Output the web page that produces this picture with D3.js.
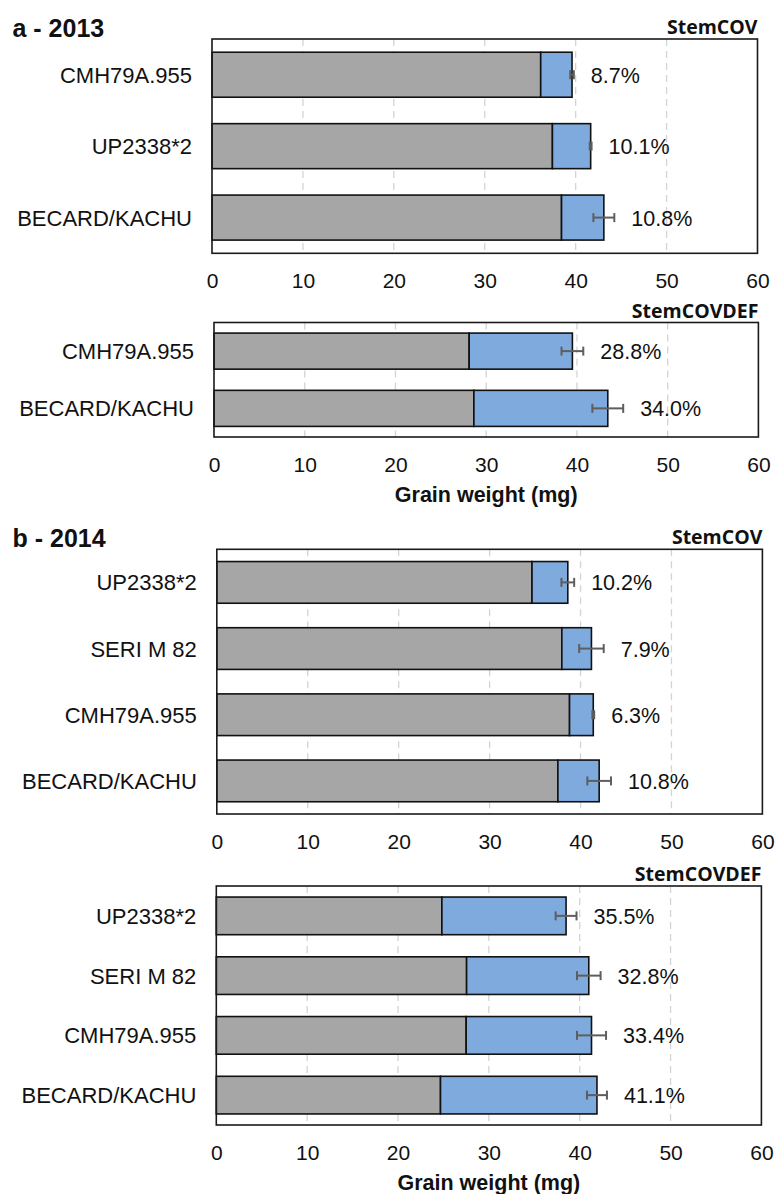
<!DOCTYPE html>
<html>
<head>
<meta charset="utf-8">
<script src="https://cdn.jsdelivr.net/npm/d3@7"></script>
<style>
  html, body { margin: 0; padding: 0; background: #fff; }
  svg { display: block; }
</style>
</head>
<body>
<svg id="chart" width="776" height="1194"></svg>
<script>
// Grain weight (mg): control total, % loss under treatment, error (mg)
const cultivars2013Cov = ["CMH79A.955", "UP2338*2", "BECARD/KACHU"];
const total2013Cov = [39.6, 41.65, 43.1];
const loss2013Cov = [8.7, 10.1, 10.8];
const err2013Cov = [0.2, 0.1, 1.15];

const cultivars2013Def = ["CMH79A.955", "BECARD/KACHU"];
const total2013Def = [39.5, 43.4];
const loss2013Def = [28.8, 34.0];
const err2013Def = [1.2, 1.7];

const cultivars2014 = ["UP2338*2", "SERI M 82", "CMH79A.955", "BECARD/KACHU"];
const total2014Cov = [38.6, 41.2, 41.4, 42.05];
const loss2014Cov = [10.2, 7.9, 6.3, 10.8];
const err2014Cov = [0.7, 1.35, 0.1, 1.3];

const total2014Def = [38.5, 41.0, 41.3, 41.9];
const loss2014Def = [35.5, 32.8, 33.4, 41.1];
const err2014Def = [1.15, 1.3, 1.6, 1.1];

const xTicks = [0, 10, 20, 30, 40, 50, 60];
const xDomain = [0, 60];
const axisTitle = "Grain weight (mg)";

const GRAY = "#a6a6a6";
const BLUE = "#7eaadd";
const ARIAL = "'Liberation Sans', Arial, sans-serif";
const BOLDSUB = "'Open Sans', 'Noto Sans', sans-serif";

const panels = [
  { title: "a - 2013", sub: "StemCOV", cats: cultivars2013Cov, total: total2013Cov, loss: loss2013Cov, err: err2013Cov,
    box: { x0: 212, x1: 757.5, y0: 39, y1: 253.3 }, axisLabel: false },
  { title: null, sub: "StemCOVDEF", cats: cultivars2013Def, total: total2013Def, loss: loss2013Def, err: err2013Def,
    box: { x0: 214, x1: 758.4, y0: 322.5, y1: 437 }, axisLabel: true },
  { title: "b - 2014", sub: "StemCOV", cats: cultivars2014, total: total2014Cov, loss: loss2014Cov, err: err2014Cov,
    box: { x0: 216.8, x1: 762.4, y0: 549.3, y1: 814 }, axisLabel: false },
  { title: null, sub: "StemCOVDEF", cats: cultivars2014, total: total2014Def, loss: loss2014Def, err: err2014Def,
    box: { x0: 216.3, x1: 761.4, y0: 886, y1: 1125 }, axisLabel: true }
];

const svg = d3.select("#chart");

panels.forEach(p => {
  const { x0, x1, y0, y1 } = p.box;
  const g = svg.append("g");

  const rows = p.cats.map((c, i) => ({
    cat: c,
    total: p.total[i],
    loss: p.loss[i],
    err: p.err[i],
    treated: p.total[i] * (1 - p.loss[i] / 100)
  }));

  const x = d3.scaleLinear().domain(xDomain).range([x0, x1]);
  const y = d3.scaleBand().domain(p.cats).range([y0, y1])
    .paddingInner(0.37).paddingOuter(0.185);

  // dashed vertical gridlines
  g.append("g").selectAll("line")
    .data(xTicks.filter(t => t > xDomain[0] && t < xDomain[1]))
    .join("line")
    .attr("x1", d => x(d)).attr("x2", d => x(d))
    .attr("y1", y0).attr("y2", y1)
    .attr("stroke", "#d4d4d4")
    .attr("stroke-width", 1.3)
    .attr("stroke-dasharray", "7,5");

  // treated grain weight (gray)
  g.append("g").selectAll("rect")
    .data(rows).join("rect")
    .attr("x", x(0))
    .attr("y", d => y(d.cat))
    .attr("width", d => x(d.treated) - x(0))
    .attr("height", y.bandwidth())
    .attr("fill", GRAY)
    .attr("stroke", "#111")
    .attr("stroke-width", 1.6);

  // loss relative to control (blue)
  g.append("g").selectAll("rect")
    .data(rows).join("rect")
    .attr("x", d => x(d.treated))
    .attr("y", d => y(d.cat))
    .attr("width", d => x(d.total) - x(d.treated))
    .attr("height", y.bandwidth())
    .attr("fill", BLUE)
    .attr("stroke", "#111")
    .attr("stroke-width", 1.6);

  // error bars at the control value
  const eb = g.append("g").attr("stroke", "#5e5e5e").attr("stroke-width", 2);
  rows.forEach(d => {
    const cy = y(d.cat) + y.bandwidth() / 2;
    const a = x(d.total - d.err), b = x(d.total + d.err);
    eb.append("line").attr("x1", a).attr("x2", b).attr("y1", cy).attr("y2", cy);
    eb.append("line").attr("x1", a).attr("x2", a).attr("y1", cy - 4.5).attr("y2", cy + 4.5);
    eb.append("line").attr("x1", b).attr("x2", b).attr("y1", cy - 4.5).attr("y2", cy + 4.5);
  });

  // percentage labels
  g.append("g").selectAll("text")
    .data(rows).join("text")
    .attr("x", d => x(d.total + d.err) + 17)
    .attr("y", d => y(d.cat) + y.bandwidth() / 2 + 8)
    .attr("font-family", ARIAL)
    .attr("font-size", 21.5)
    .attr("fill", "#111")
    .text(d => d.loss.toFixed(1) + "%");

  // category labels
  g.append("g").selectAll("text")
    .data(rows).join("text")
    .attr("x", x0 - 20)
    .attr("y", d => y(d.cat) + y.bandwidth() / 2 + 8)
    .attr("text-anchor", "end")
    .attr("font-family", ARIAL)
    .attr("font-size", 22)
    .attr("fill", "#111")
    .text(d => d.cat);

  // frame
  g.append("rect")
    .attr("x", x0).attr("y", y0)
    .attr("width", x1 - x0).attr("height", y1 - y0)
    .attr("fill", "none")
    .attr("stroke", "#1a1a1a")
    .attr("stroke-width", 1.6);

  // x axis tick labels
  const axis = d3.axisBottom(x).tickValues(xTicks).tickSize(0).tickPadding(0).tickFormat(d3.format("d"));
  const ax = g.append("g").attr("transform", `translate(0,${y1 + 34.5})`).call(axis);
  ax.select(".domain").remove();
  ax.selectAll("text")
    .attr("y", 0).attr("dy", 0)
    .attr("font-family", ARIAL)
    .attr("font-size", 21)
    .attr("fill", "#111");

  if (p.axisLabel) {
    g.append("text")
      .attr("x", (x0 + x1) / 2)
      .attr("y", y1 + 34.5 + 30)
      .attr("text-anchor", "middle")
      .attr("font-family", ARIAL)
      .attr("font-weight", "bold")
      .attr("font-size", 21.5)
      .attr("fill", "#111")
      .text(axisTitle);
  }

  // treatment name
  g.append("text")
    .attr("x", x1)
    .attr("y", y0 - 5)
    .attr("text-anchor", "end")
    .attr("font-family", BOLDSUB)
    .attr("font-weight", "bold")
    .attr("font-size", 19.5)
    .attr("fill", "#111")
    .text(p.sub);

  if (p.title) {
    g.append("text")
      .attr("x", 12.5)
      .attr("y", y0 - 2)
      .attr("font-family", ARIAL)
      .attr("font-weight", "bold")
      .attr("font-size", 25)
      .attr("fill", "#111")
      .text(p.title);
  }
});
</script>
</body>
</html>
